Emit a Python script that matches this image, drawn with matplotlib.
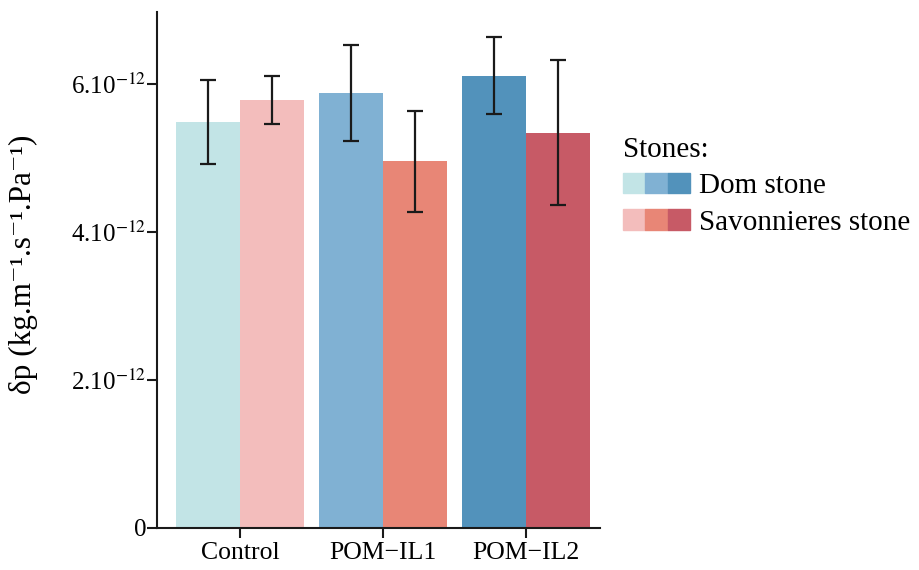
import numpy as np
import matplotlib
matplotlib.use('Agg')
import matplotlib.pyplot as plt
from matplotlib.patches import Patch
from matplotlib.legend_handler import HandlerTuple

plt.rcParams['font.family'] = ['Liberation Serif', 'DejaVu Serif']
plt.rcParams['mathtext.fontset'] = 'stix'

# values in units of 1e-12 kg.m-1.s-1.Pa-1
groups = ['Control', 'POM\u2212IL1', 'POM\u2212IL2']
dom_mean = [5.48, 5.88, 6.11]
dom_err = [0.57, 0.65, 0.52]
sav_mean = [5.78, 4.95, 5.34]
sav_err = [0.33, 0.68, 0.98]

dom_colors = ['#c2e4e6', '#80b1d3', '#5292bb']
sav_colors = ['#f3bdbc', '#e88676', '#c75a66']

fig = plt.figure(figsize=(9.19, 5.70), dpi=100)
ax = fig.add_axes([0.171, 0.074, 0.482, 0.905])

x = np.arange(len(groups))
w = 0.45
ax.bar(x - w/2, dom_mean, w, color=dom_colors)
ax.bar(x + w/2, sav_mean, w, color=sav_colors)
ax.errorbar(x - w/2, dom_mean, yerr=dom_err, fmt='none', ecolor='#1a1a1a',
            elinewidth=1.6, capsize=6, capthick=1.6)
ax.errorbar(x + w/2, sav_mean, yerr=sav_err, fmt='none', ecolor='#1a1a1a',
            elinewidth=1.6, capsize=6, capthick=1.6)

ax.set_xlim(-0.58, 2.52)
ax.set_ylim(0, 6.97)
ax.set_xticks(x)
ax.set_xticklabels(groups, fontsize=18.5)
ax.set_yticks([0, 2, 4, 6])
ax.set_yticklabels(['0', r'2.10$^{-12}$', r'4.10$^{-12}$', r'6.10$^{-12}$'], fontsize=18)
ax.tick_params(direction='out', length=7, width=1.5, color='#1a1a1a')
ax.tick_params(axis='y', pad=1)

for s in ['top', 'right']:
    ax.spines[s].set_visible(False)
for s in ['left', 'bottom']:
    ax.spines[s].set_linewidth(1.5)
    ax.spines[s].set_color('#1a1a1a')

ax.set_ylabel('\u03b4p (kg.m\u207b\u00b9.s\u207b\u00b9.Pa\u207b\u00b9)', fontsize=22.5)
ax.yaxis.set_label_coords(-0.268, 0.51)

dom_handle = tuple(Patch(color=c) for c in dom_colors)
sav_handle = tuple(Patch(color=c) for c in sav_colors)
fig.legend([dom_handle, sav_handle], ['Dom stone', 'Savonnieres stone'],
           handler_map={tuple: HandlerTuple(ndivide=None, pad=0)},
           title='Stones:', title_fontsize=21, fontsize=21,
           loc='upper left', bbox_to_anchor=(0.662, 0.786), frameon=False,
           handlelength=2.3, handleheight=0.7, handletextpad=0.3,
           borderpad=0, labelspacing=0.35, alignment='left')

fig.savefig('out.png', dpi=100)
